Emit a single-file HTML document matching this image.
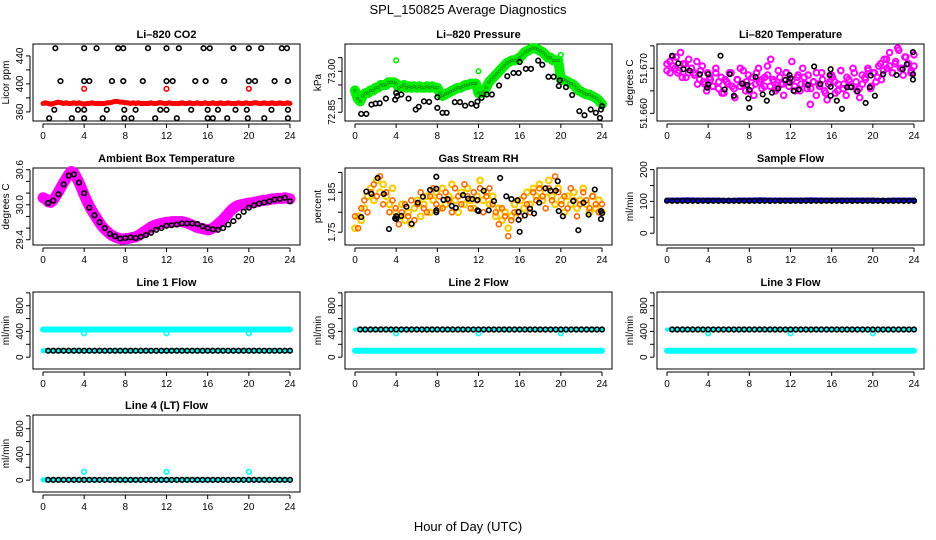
<!DOCTYPE html>
<html><head><meta charset="utf-8"><style>
html,body{margin:0;padding:0;background:#fff;}
svg{display:block;font-family:"Liberation Sans",sans-serif;}
</style></head><body>
<svg id="c" width="936" height="540" viewBox="0 0 936 540">
<text x="468" y="14" text-anchor="middle" font-size="13">SPL_150825  Average Diagnostics</text>
<text x="468" y="531" text-anchor="middle" font-size="13">Hour of Day (UTC)</text>
</svg>
<script>
// ---- data ----
const xTicks=[0,4,8,12,16,20,24];
const co2Red=[372,373,372,371,372,373,374,373,372,373,372,372,373,372,373,372,371,372,372,373,372,372,372,372,372,373,373,374,375,375,374,374,373,373,372,373,372,373,372,372,372,372,373,372,372,373,373,372,372,373,372,372,372,372,373,372,372,373,372,372,373,372,372,373,372,372,373,372,372,373,372,372,373,372,372,372,373,372,372,373,372,372,373,373,372,372,373,372,372,373,372,372,373,372,372,373,372];
const co2RedOutX=[4,12,20];
const co2RedOutY=[393,393,393];
const co2BlackX=[1.2,4,5.2,7.3,7.8,10.2,12,13.2,15.6,16.2,18.5,20,21.2,23.2,23.7,1.7,4,4.5,6.7,7.8,9.7,12,12.6,14.8,15.8,17.6,20,20.6,22.5,23.8,1.1,3.4,4,6.2,7.9,9,11.4,12,14.4,16,17,18.7,19.8,22.2,23.8,0.6,2.8,4,5.8,7.9,8.6,10.9,13,16,16.5,17.9,19.9,21.5,23.8];
const co2BlackY=[451,451,451,451,451,451,451,451,451,451,451,451,451,451,451,404,404,404,404,404,404,404,404,404,404,404,404,404,404,404,363,363,363,363,363,363,363,363,363,363,363,363,363,363,363,351,351,351,351,351,351,351,351,351,351,351,351,351,351];
const presGreen=[72.93,72.90,72.89,72.91,72.92,72.92,72.93,72.93,72.94,72.94,72.95,72.95,72.95,72.96,72.96,72.96,72.955,72.94,72.945,72.95,72.94,72.945,72.94,72.945,72.94,72.945,72.94,72.94,72.945,72.94,72.945,72.94,72.94,72.92,72.91,72.915,72.92,72.925,72.93,72.935,72.94,72.94,72.945,72.95,72.95,72.955,72.955,72.955,72.92,72.92,72.925,72.94,72.96,72.97,72.98,72.99,73.0,73.01,73.02,73.03,73.035,73.04,73.04,73.045,73.05,73.06,73.07,73.075,73.08,73.085,73.085,73.08,73.075,73.07,73.06,73.05,73.05,73.04,73.04,73.04,72.97,72.97,72.965,72.96,72.955,72.95,72.94,72.93,72.925,72.92,72.915,72.915,72.91,72.905,72.9,72.89,72.88];
const presOutX=[0,4,12,20];
const presOutY=[72.93,73.04,73.0,73.06];
const presBlackX=[0.6,1.1,1.6,2,2.4,3,3.9,4,4.1,4.5,5.2,5.9,6.2,6.7,7.2,8,8,8.5,8.9,9.7,10.2,10.7,11.3,11.8,11.9,12.3,12.8,13.3,14,14.8,15.4,15.9,16,16.6,17.1,17.8,18.2,18.8,19.3,19.8,19.9,20.5,21.1,21.8,22.3,22.9,23.4,23.8,23.9,24];
const presBlackY=[72.844,72.844,72.878,72.882,72.883,72.90,72.896,72.921,72.909,72.915,72.90,72.86,72.87,72.89,72.888,72.866,72.905,72.848,72.848,72.887,72.887,72.874,72.881,72.874,72.889,72.903,72.915,72.915,72.948,72.982,72.994,72.994,73.034,73.009,73.009,73.039,73.024,72.98,72.98,72.946,72.967,72.942,72.913,72.854,72.839,72.86,72.848,72.829,72.86,72.872];
const liTempA=[51.6695,51.6715,51.6725,51.6700,51.6690,51.6735,51.6710,51.6680,51.6720,51.6700,51.6690,51.6715,51.6675,51.6705,51.6665,51.6690,51.6675,51.6660,51.6700,51.6655,51.6680,51.6645,51.6670,51.6690,51.6660,51.6635,51.6675,51.6700,51.6665,51.6650,51.6685,51.6660,51.6640,51.6690,51.6670,51.6655,51.6680,51.6705,51.6660,51.6675,51.6650,51.6695,51.6665,51.6640,51.6690,51.6670,51.6715,51.6660,51.6680,51.6650,51.6700,51.6665,51.6685,51.6655,51.6670,51.6640,51.6665,51.6690,51.6650,51.6630,51.6670,51.6680,51.6645,51.6665,51.6695,51.6655,51.6640,51.6675,51.6660,51.6690,51.6650,51.6635,51.6665,51.6680,51.6700,51.6655,51.6690,51.6670,51.6705,51.6675,51.6720,51.6700,51.6735,51.6690,51.6710,51.6745,51.6700,51.6685,51.6725,51.6710,51.6695,51.6730];
const liTempB=[51.6710,51.6690,51.6705,51.6725,51.6695,51.6680,51.6710,51.6690,51.6700,51.6685,51.6665,51.6695,51.6670,51.6650,51.6680,51.6660,51.6690,51.6670,51.6645,51.6675,51.6665,51.6690,51.6655,51.6675,51.6660,51.6695,51.6670,51.6650,51.6680,51.6665,51.6700,51.6675,51.6660,51.6685,51.6720,51.6670,51.6655,51.6680,51.6665,51.6690,51.6660,51.6675,51.6650,51.6685,51.6665,51.6680,51.6655,51.6620,51.6670,51.6690,51.6660,51.6675,51.6645,51.6665,51.6685,51.6670,51.6650,51.6695,51.6665,51.6680,51.6660,51.6700,51.6670,51.6655,51.6685,51.6675,51.6695,51.6660,51.6690,51.6680,51.6710,51.6695,51.6720,51.6705,51.6690,51.6715,51.6740,51.6700,51.6725,51.6710,51.6690,51.6705];
const liTempBlackX=[0.5,1.1,1.6,2.2,3.2,4,4,3.9,5.2,5.6,6.1,6.5,7.3,7.8,7.9,8,8,8.6,9.3,9.7,10.2,10.8,11.5,11.9,11.9,12,12.3,12.8,13.7,14.3,14.9,15.8,15.9,15.9,15.9,16.5,17,17.5,17.9,18.5,19.3,19.7,19.8,20.2,21,22.3,22.9,23.3,23.9,23.9,23.9];
const liTempBlackY=[51.6728,51.6711,51.6698,51.6695,51.6687,51.6687,51.6664,51.6657,51.6728,51.6653,51.6687,51.6639,51.6666,51.6663,51.6633,51.6652,51.6612,51.6681,51.6642,51.6628,51.6646,51.6655,51.6674,51.6685,51.6668,51.6678,51.6650,51.6653,51.6663,51.6704,51.6665,51.6685,51.6698,51.6659,51.6639,51.6628,51.6610,51.6658,51.6658,51.6649,51.6623,51.6658,51.6684,51.6639,51.6687,51.6685,51.6698,51.6709,51.6736,51.6687,51.6675];
const ambMag=[30.12,30.1,30.05,30.04,30.08,30.15,30.22,30.3,30.38,30.45,30.52,30.57,30.55,30.47,30.38,30.28,30.17,30.07,29.98,29.9,29.83,29.76,29.69,29.63,29.58,29.54,29.5,29.47,29.45,29.43,29.42,29.41,29.42,29.42,29.43,29.44,29.45,29.47,29.5,29.53,29.56,29.59,29.62,29.64,29.66,29.67,29.68,29.69,29.7,29.7,29.71,29.71,29.71,29.71,29.71,29.7,29.69,29.67,29.65,29.63,29.61,29.6,29.59,29.58,29.57,29.58,29.6,29.63,29.67,29.71,29.75,29.8,29.85,29.9,29.94,29.97,29.99,30.0,30.01,30.02,30.03,30.03,30.04,30.05,30.06,30.07,30.08,30.08,30.09,30.1,30.1,30.11,30.11,30.11,30.12,30.11,30.1];
const ambBlack=[30.03,30.07,30.18,30.35,30.5,30.52,30.38,30.2,29.95,29.82,29.7,29.6,29.5,29.46,29.42,29.43,29.44,29.43,29.45,29.48,29.52,29.57,29.6,29.64,29.65,29.66,29.68,29.68,29.68,29.67,29.63,29.6,29.58,29.57,29.6,29.66,29.72,29.8,29.88,29.95,29.99,30.02,30.04,30.06,30.09,30.1,30.12,30.06];
const rhA=[1.76,1.79,1.78,1.81,1.84,1.86,1.83,1.88,1.85,1.87,1.84,1.82,1.86,1.80,1.79,1.82,1.78,1.80,1.77,1.81,1.83,1.79,1.82,1.84,1.80,1.83,1.85,1.81,1.86,1.82,1.84,1.87,1.83,1.80,1.85,1.82,1.86,1.83,1.81,1.84,1.88,1.83,1.85,1.82,1.84,1.79,1.81,1.78,1.80,1.76,1.79,1.82,1.80,1.83,1.81,1.85,1.82,1.86,1.84,1.87,1.83,1.85,1.88,1.84,1.82,1.86,1.83,1.80,1.84,1.82,1.85,1.81,1.83,1.86,1.82,1.80,1.84,1.81,1.83,1.80];
const rhB=[1.79,1.76,1.81,1.83,1.80,1.85,1.87,1.84,1.89,1.82,1.85,1.80,1.83,1.81,1.77,1.80,1.82,1.79,1.83,1.78,1.82,1.85,1.81,1.80,1.84,1.86,1.82,1.84,1.81,1.85,1.83,1.80,1.86,1.84,1.82,1.87,1.84,1.81,1.85,1.83,1.86,1.80,1.84,1.86,1.82,1.80,1.77,1.81,1.79,1.74,1.78,1.80,1.83,1.79,1.84,1.82,1.80,1.85,1.83,1.86,1.84,1.81,1.86,1.83,1.89,1.85,1.82,1.84,1.81,1.86,1.83,1.79,1.82,1.85,1.83,1.81,1.84,1.82,1.80,1.82];
const rhBlackX=[0.6,1.1,1.6,2.2,2.8,3.3,3.9,4,4,4.5,5,5.5,6.1,6.6,7.3,7.9,7.9,7.9,7.9,8.6,9.0,9.4,9.8,10.5,11,11.4,11.9,11.9,12,12.5,13,13.5,14.1,14.7,15.2,15.8,15.9,15.9,16.0,16.5,17,17.4,17.9,18.5,19,19.5,19.7,19.8,20.2,21.2,21.7,22.2,22.7,23.3,23.9,23.9,24];
const rhBlackY=[1.788,1.852,1.846,1.886,1.846,1.758,1.785,1.783,1.790,1.791,1.814,1.771,1.824,1.839,1.856,1.889,1.859,1.805,1.800,1.831,1.833,1.816,1.811,1.843,1.834,1.833,1.831,1.805,1.803,1.854,1.805,1.828,1.886,1.840,1.833,1.830,1.801,1.781,1.751,1.792,1.809,1.797,1.824,1.860,1.854,1.854,1.878,1.803,1.790,1.828,1.755,1.824,1.794,1.857,1.803,1.783,1.798];
const flowHours=[0,1,2,3,4,5,6,7,8,9,10,11,12,13,14,15,16,17,18,19,20,21,22,23,24];
const sampleBlue=[104,104,105,104,104,104,103,104,104,105,104,104,104,104,105,104,104,104,104,104,104,103,104,104,104];
const sampleBlack=[102,102,102,102,102,102,102,102,102,102,102,102,102,102,102,102,102,102,102,102,102,102,102,102,102];
const highFlow=[430,430,430,430,430,430,430,430,430,430,430,430,430,430,430,430,430,430,430,430,430,430,430,430,430];
const lowFlow=[100,100,100,100,100,100,100,100,100,100,100,100,100,100,100,100,100,100,100,100,100,100,100,100,100];
const zeroFlow=[5,5,5,5,5,5,5,5,5,5,5,5,5,5,5,5,5,5,5,5,5,5,5,5,5];
const outHours=[4,12,20];
const outLow=[370,370,370];
const outL4=[130,130,130];

// ---- drawing ----
const NS='http://www.w3.org/2000/svg';
const svg=document.getElementById('c');
function mk(tag,attrs,parent){const e=document.createElementNS(NS,tag);for(const k in attrs)e.setAttribute(k,attrs[k]);(parent||svg).appendChild(e);return e;}
const colL=[33,345,657], rowT=[44,168,292,415], PW=267, PH=77;
function panel(col,row,name,title,ylab,ymin,ymax,ticks,labels){
  const L=colL[col],T=rowT[row],B=T+PH,R=L+PW;
  const g=mk('g',{});
  
  
  const sx=v=>L+10+v*(PW-20)/24;
  const sy=v=>B-(v-ymin)/(ymax-ymin)*PH;
  const t=mk('text',{x:L+PW/2,y:T-6,'text-anchor':'middle','font-size':11,'font-weight':'bold'},g);t.textContent=title;
  
  
  const fr=mk('rect',{x:L,y:T,width:PW,height:PH,fill:'none',stroke:'#000','stroke-width':1},g);
  
  
  const xa=mk('g',{},g);
  
  
  mk('line',{x1:sx(0),x2:sx(24),y1:B+3,y2:B+3,stroke:'#000'},xa);
  xTicks.forEach(v=>{mk('line',{x1:sx(v),x2:sx(v),y1:B+3,y2:B+7,stroke:'#000'},xa);
    const tl=mk('text',{x:sx(v),y:B+18,'text-anchor':'middle','font-size':10},xa);tl.textContent=v;});
  const ya=mk('g',{},g);
  
  
  mk('line',{x1:L-3,x2:L-3,y1:sy(ticks[0]),y2:sy(ticks[ticks.length-1]),stroke:'#000'},ya);
  ticks.forEach(v=>{mk('line',{x1:L-7,x2:L-3,y1:sy(v),y2:sy(v),stroke:'#000'},ya);});
  labels.forEach(v=>{const tl=mk('text',{x:0,y:0,'text-anchor':'middle','font-size':10,transform:`translate(${L-10},${sy(v)}) rotate(-90)`},ya);tl.textContent=v;});
  const yt=mk('text',{x:0,y:0,'text-anchor':'middle','font-size':10,transform:`translate(${L-24},${T+PH/2}) rotate(-90)`},g);yt.textContent=ylab;
  
  
  const clip=mk('g',{},g);
  return {sx,sy,g:clip};
}
function pts(p,xs,ys,color,sname,r,sw){
  const gg=mk('g',{},p.g);
  
  
  ys.forEach((v,i)=>{mk('circle',{cx:p.sx(xs[i]),cy:p.sy(v),r:r||2.3,fill:'none',stroke:color,'stroke-width':sw||1.6},gg);});
}
function band(p,xs,ys,color,sname,w){
  const gg=mk('g',{},p.g);
  
  
  mk('polyline',{points:ys.map((v,i)=>p.sx(xs[i])+','+p.sy(v)).join(' '),fill:'none',stroke:color,'stroke-width':w||6,'stroke-linejoin':'round','stroke-linecap':'round'},gg);
}
const idx=(arr)=>arr.map((_,i)=>i*24/(arr.length-1));
const xsHalf=ambBlack.map((_,i)=>(i+1)*0.5);

// Li-820 CO2
let p=panel(0,0,'co2','Li\u2013820 CO2','Licor ppm',347,457,[360,380,400,420,440],[360,400,440]);
band(p,idx(co2Red),co2Red,'#ff0000','co2-red-series',5);
pts(p,co2RedOutX,co2RedOutY,'#ff0000','co2-red-outliers');
pts(p,co2BlackX,co2BlackY,'#000','co2-black-series');
// Pressure
p=panel(1,0,'pressure','Li\u2013820 Pressure','kPa',72.818,73.10,[72.85,72.9,72.95,73.0,73.05],['72.85','73.00']);
band(p,idx(presGreen),presGreen,'#00ee00','pressure-green-band',10);
pts(p,idx(presGreen),presGreen,'#119911','pressure-green-series',1.2,0.8);
pts(p,presOutX,presOutY,'#00ee00','pressure-green-outliers');
pts(p,presBlackX,presBlackY,'#000','pressure-black-series');
// Li-820 Temperature
p=panel(2,0,'li820-temp','Li\u2013820 Temperature','degrees C',51.6583,51.6754,[51.660,51.665,51.670,51.675],['51.660','51.670']);
pts(p,idx(liTempA),liTempA,'#ff00ff','li820-temp-magenta-a',2.8,2);
pts(p,idx(liTempB),liTempB,'#ff00ff','li820-temp-magenta-b',2.8,2);
pts(p,liTempBlackX,liTempBlackY,'#000','li820-temp-black-series');
// Ambient box temp
p=panel(0,1,'ambient','Ambient Box Temperature','degrees C',29.31,30.63,[29.4,29.6,29.8,30.0,30.2,30.4,30.6],['29.4','30.0','30.6']);
band(p,idx(ambMag),ambMag,'#ff00ff','ambient-magenta-series',11);
pts(p,xsHalf,ambBlack,'#000','ambient-black-series');
// Gas stream RH
p=panel(1,1,'rh','Gas Stream RH','percent',1.718,1.911,[1.75,1.80,1.85,1.90],['1.75','1.85']);
pts(p,idx(rhA),rhA,'#ffcc00','rh-yellow-series',2.8,2.2);
pts(p,idx(rhB),rhB,'#ff6600','rh-orange-series',2.5,1.6);
pts(p,rhBlackX,rhBlackY,'#000','rh-black-series');
// Sample flow
p=panel(2,1,'sample-flow','Sample Flow','ml/min',-37,205,[0,50,100,150,200],[0,100,200]);
band(p,flowHours,sampleBlue,'#0000ff','sample-flow-blue-series',5);
pts(p,flowHours,sampleBlack,'#000','sample-flow-black-series');
pts(p,xsHalf,xsHalf.map((_,i)=>sampleBlack[Math.floor(i/2)]),'#000','sample-flow-black-dense');
// Line flows
const flowTicks=[0,200,400,600,800,1000],flowLabs=[0,400,800];
p=panel(0,2,'line1-flow','Line 1 Flow','ml/min',-184,1013,flowTicks,flowLabs);
band(p,flowHours,highFlow,'#00ffff','line1-cyan-series',6);
band(p,flowHours,lowFlow,'#00ffff','line1-cyan-low',5);
pts(p,outHours,outLow,'#00ffff','line1-cyan-outliers');
pts(p,xsHalf,xsHalf.map((_,i)=>lowFlow[Math.floor(i/2)]),'#000','line1-black-series');
for(const [c,nm,tt] of [[1,'line2-flow','Line 2 Flow'],[2,'line3-flow','Line 3 Flow']]){
  p=panel(c,2,nm,tt,'ml/min',-184,1013,flowTicks,flowLabs);
  band(p,flowHours,lowFlow,'#00ffff',nm+'-cyan-series',6);
  band(p,flowHours,highFlow,'#00ffff',nm+'-cyan-high',4);
  pts(p,outHours,outLow,'#00ffff',nm+'-cyan-outliers');
  pts(p,xsHalf,xsHalf.map((_,i)=>highFlow[Math.floor(i/2)]),'#000',nm+'-black-series');
}
p=panel(0,3,'line4-flow','Line 4 (LT) Flow','ml/min',-184,1013,flowTicks,flowLabs);
band(p,flowHours,zeroFlow,'#00ffff','line4-cyan-series',5);
pts(p,outHours,outL4,'#00ffff','line4-cyan-outliers');
pts(p,xsHalf,xsHalf.map((_,i)=>zeroFlow[Math.floor(i/2)]),'#000','line4-black-series');
</script>
</body></html>
